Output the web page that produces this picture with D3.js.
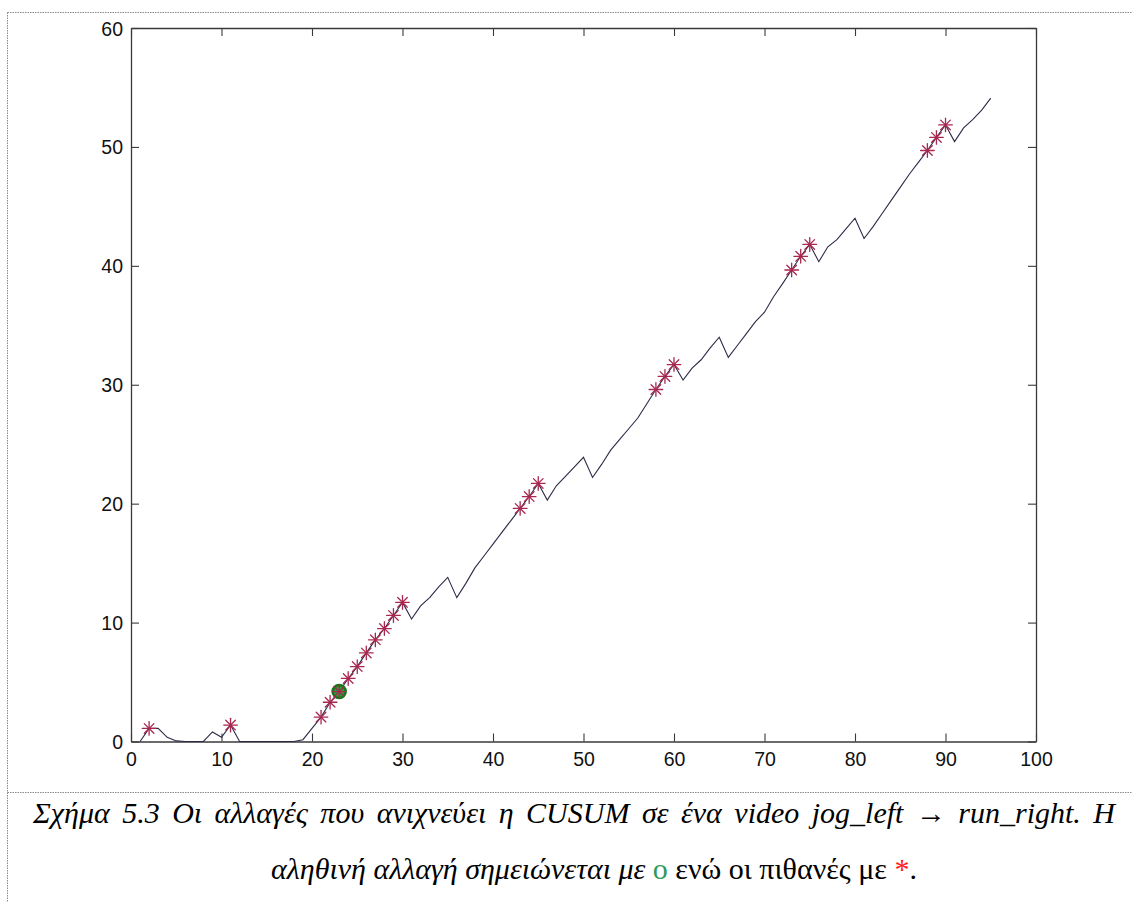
<!DOCTYPE html>
<html>
<head>
<meta charset="utf-8">
<script src="https://cdn.jsdelivr.net/npm/d3@7"></script>
<style>
  html, body { margin: 0; padding: 0; background: #fff; }
  svg { display: block; }
</style>
</head>
<body>
<svg id="fig" width="1132" height="902"></svg>
<script>
// CUSUM statistic per frame (frames 1..95)
const frames = d3.range(1, 96);
const cusum = [
  0, 1.1, 1.1, 0.35, 0.05, 0, 0, 0, 0.8, 0.35,
  1.38, 0, 0, 0, 0, 0, 0, 0, 0.15, 1.1,
  2.05, 3.3, 4.2, 5.3, 6.3, 7.45, 8.55, 9.5, 10.6, 11.7,
  10.3, 11.4, 12.1, 13.0, 13.8, 12.1, 13.3, 14.6, 15.6, 16.6,
  17.6, 18.6, 19.6, 20.6, 21.7, 20.3, 21.5, 22.3, 23.1, 23.9,
  22.2, 23.3, 24.5, 25.4, 26.3, 27.2, 28.4, 29.6, 30.7, 31.7,
  30.4, 31.4, 32.1, 33.1, 34.0, 32.3, 33.3, 34.3, 35.3, 36.1,
  37.4, 38.5, 39.65, 40.8, 41.8, 40.35, 41.6, 42.2, 43.1, 44.0,
  42.3, 43.3, 44.4, 45.5, 46.6, 47.7, 48.7, 49.7, 50.8, 51.85,
  50.45, 51.6, 52.3, 53.1, 54.1
];
// frames flagged as possible changes (*) and the true change (o)
const possibleChanges = [2, 11, 21, 22, 23, 24, 25, 26, 27, 28, 29, 30,
  43, 44, 45, 58, 59, 60, 73, 74, 75, 88, 89, 90];
const trueChange = [23];
const xTicks = [0, 10, 20, 30, 40, 50, 60, 70, 80, 90, 100];
const yTicks = [0, 10, 20, 30, 40, 50, 60];

const svg = d3.select("#fig");

// page frame: dotted rules around the figure and above the caption
function rule(x1, y1, x2, y2) {
  svg.append("line").attr("x1", x1).attr("y1", y1).attr("x2", x2).attr("y2", y2)
    .attr("stroke", "#8a8a8a").attr("stroke-width", 1).attr("stroke-dasharray", "1.5,1");
}
rule(7.5, 12.5, 1132, 12.5);
rule(7.5, 12.5, 7.5, 902);
rule(7.5, 792.5, 1132, 792.5);

// axes
const L = 131, R = 1036, T = 28, B = 741.5;
const x = d3.scaleLinear().domain([0, 100]).range([L, R]);
const y = d3.scaleLinear().domain([0, 60]).range([B, T]);
const tickLen = 8;
const axisColor = "#3a3a3a";
const tickFont = "'Liberation Sans', Arial, sans-serif";

const gB = svg.append("g").attr("transform", `translate(0,${B})`)
  .call(d3.axisBottom(x).tickValues(xTicks).tickSizeInner(-tickLen).tickSizeOuter(0).tickPadding(12));
const gT = svg.append("g").attr("transform", `translate(0,${T})`)
  .call(d3.axisTop(x).tickValues(xTicks).tickSizeInner(-tickLen).tickSizeOuter(0).tickFormat(""));
const gL = svg.append("g").attr("transform", `translate(${L},0)`)
  .call(d3.axisLeft(y).tickValues(yTicks).tickSizeInner(-tickLen).tickSizeOuter(0).tickPadding(8));
const gR = svg.append("g").attr("transform", `translate(${R},0)`)
  .call(d3.axisRight(y).tickValues(yTicks).tickSizeInner(-tickLen).tickSizeOuter(0).tickFormat(""));

[gB, gT, gL, gR].forEach(g => {
  g.select(".domain").attr("stroke", axisColor).attr("stroke-width", 1.3);
  g.selectAll(".tick line").attr("stroke", axisColor).attr("stroke-width", 1.1);
  g.selectAll(".tick text").attr("fill", "#111")
    .style("font-family", tickFont).style("font-size", "19.5px");
});
gB.selectAll(".tick text").attr("dy", "0.71em").attr("y", 11);
gL.selectAll(".tick text").attr("dy", "0.36em");

// CUSUM curve
const data = frames.map((f, i) => ({ f, v: cusum[i] }));
svg.append("path")
  .datum(data)
  .attr("fill", "none")
  .attr("stroke", "#2b2b48")
  .attr("stroke-width", 1.1)
  .attr("d", d3.line().x(d => x(d.f)).y(d => y(d.v)));

// true change: green circle
svg.selectAll("circle.truth")
  .data(trueChange)
  .join("circle")
  .attr("class", "truth")
  .attr("cx", f => x(f))
  .attr("cy", f => y(cusum[f - 1]))
  .attr("r", 6.5)
  .attr("fill", "#2f9a3a")
  .attr("stroke", "#137a17")
  .attr("stroke-width", 2.6);

// possible changes: eight-spoke asterisks
const starR = 6.8;
const spokes = [0, 45, 90, 135].map(a => a * Math.PI / 180);
const stars = svg.selectAll("g.star")
  .data(possibleChanges)
  .join("g")
  .attr("class", "star")
  .attr("transform", f => `translate(${x(f)},${y(cusum[f - 1])})`);
spokes.forEach(a => {
  stars.append("line")
    .attr("x1", -starR * Math.cos(a)).attr("y1", -starR * Math.sin(a))
    .attr("x2", starR * Math.cos(a)).attr("y2", starR * Math.sin(a))
    .attr("stroke", "#a8284f")
    .attr("stroke-width", 1.3)
    .attr("stroke-linecap", "round");
});

// caption (first line justified across the text block)
const capFont = "'Liberation Serif', 'Times New Roman', serif";
const capSize = "30px";
const cap1 = svg.append("text")
  .attr("x", 33).attr("y", 823)
  .style("font-family", capFont).style("font-size", capSize)
  .attr("fill", "#000");
cap1.append("tspan").style("font-style", "italic")
  .text("Σχήμα 5.3 Οι αλλαγές που ανιχνεύει η CUSUM σε ένα video jog_left ");
cap1.append("tspan").text("→");
cap1.append("tspan").style("font-style", "italic").text(" run_right. H");
const line1Width = 1115 - 33;
const natural = cap1.node().getComputedTextLength();
const gaps = cap1.text().split(" ").length - 1;
cap1.style("word-spacing", `${Math.max(0, (line1Width - natural) / gaps)}px`);

const cap2 = svg.append("text")
  .attr("x", 594).attr("y", 879)
  .attr("text-anchor", "middle")
  .style("font-family", capFont).style("font-size", capSize)
  .attr("fill", "#000");
cap2.append("tspan").style("font-style", "italic").text("αληθινή αλλαγή σημειώνεται με ");
cap2.append("tspan").attr("fill", "#2e9a5a").text("ο");
cap2.append("tspan").text(" ενώ οι πιθανές με ");
cap2.append("tspan").attr("fill", "#ff1a1a").text("*");
cap2.append("tspan").text(".");
</script>
</body>
</html>
